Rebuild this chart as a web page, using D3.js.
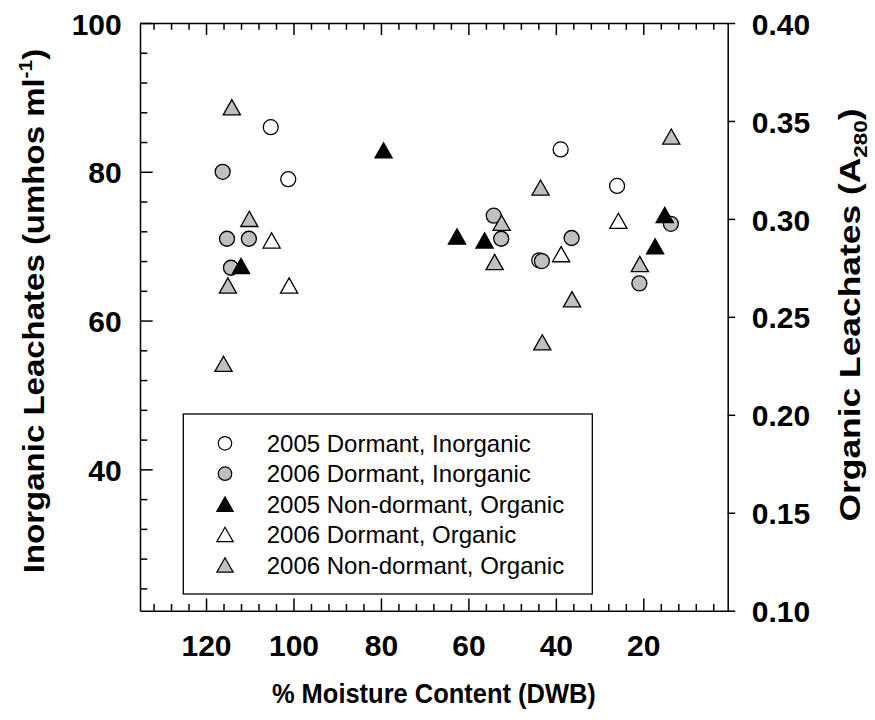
<!DOCTYPE html>
<html>
<head>
<meta charset="utf-8">
<script src="https://cdn.jsdelivr.net/npm/d3@7"></script>
<style>
  html, body { margin: 0; padding: 0; background: #ffffff; }
  svg { display: block; }
  text { font-family: "Liberation Sans", Arial, Helvetica, sans-serif; fill: #000; }
</style>
</head>
<body>
<svg id="chart" width="875" height="720"></svg>
<script>
// ---- Data: % moisture content (DWB) and leachate readings per sample ----
// Inorganic series read on the left axis (umhos/ml)
const dormant2005InorgMoisture = [105.2, 101.2, 38.9, 26.0, 43.8];
const dormant2005InorgValue    = [86.0, 79.0, 83.0, 78.1, 68.1];

const dormant2006InorgMoisture = [116.2, 115.2, 110.2, 114.3, 54.2, 52.5, 43.2, 36.4, 13.7, 20.9];
const dormant2006InorgValue    = [80.0, 71.0, 71.0, 67.1, 74.1, 71.0, 68.0, 71.1, 73.0, 65.0];

// Organic series read on the right axis (A280)
const nondormant2005OrgMoisture = [79.4, 112.0, 62.6, 56.3, 15.1, 17.3];
const nondormant2005OrgValue    = [0.335, 0.276, 0.291, 0.289, 0.302, 0.286];

const dormant2006OrgMoisture = [105.0, 101.0, 38.8, 25.7];
const dormant2006OrgValue    = [0.289, 0.266, 0.282, 0.299];

const nondormant2006OrgMoisture = [114.1, 110.1, 115.0, 116.0, 13.6, 43.5, 52.4, 54.0, 36.3, 43.1, 20.8];
const nondormant2006OrgValue    = [0.357, 0.300, 0.266, 0.226, 0.342, 0.316, 0.298, 0.278, 0.259, 0.237, 0.277];

const seriesNames = [
  "2005 Dormant, Inorganic",
  "2006 Dormant, Inorganic",
  "2005 Non-dormant, Organic",
  "2006 Dormant, Organic",
  "2006 Non-dormant, Organic"
];

// Tick values
const xMajorTicks = [120, 100, 80, 60, 40, 20];
const xMinorTicks = d3.range(132, 0, -4).filter(v => v % 20 !== 0);
const yLeftMajorTicks = [100, 80, 60, 40];
const yLeftMinorTicks = d3.range(24, 100, 4).filter(v => v % 20 !== 0);
const yRightTicks = [0.10, 0.15, 0.20, 0.25, 0.30, 0.35, 0.40];

// ---- Layout ----
const svg = d3.select("#chart");
const plot = { left: 140, right: 727.7, top: 23, bottom: 610.7 };

const x = d3.scaleLinear().domain([135.1, 0.7]).range([plot.left, plot.right]);
const yL = d3.scaleLinear().domain([21, 100]).range([plot.bottom, plot.top]);
const yR = d3.scaleLinear().domain([0.10, 0.40]).range([plot.bottom, plot.top]);

const GRAY = "#c0c0c0";
const series = [
  { name: seriesNames[0], xs: dormant2005InorgMoisture, ys: dormant2005InorgValue, y: yL, shape: "circle", fill: "#ffffff" },
  { name: seriesNames[1], xs: dormant2006InorgMoisture, ys: dormant2006InorgValue, y: yL, shape: "circle", fill: GRAY },
  { name: seriesNames[2], xs: nondormant2005OrgMoisture, ys: nondormant2005OrgValue, y: yR, shape: "triangle", fill: "#000000" },
  { name: seriesNames[3], xs: dormant2006OrgMoisture, ys: dormant2006OrgValue, y: yR, shape: "triangle", fill: "#ffffff" },
  { name: seriesNames[4], xs: nondormant2006OrgMoisture, ys: nondormant2006OrgValue, y: yR, shape: "triangle", fill: GRAY }
];

// Marker shapes centred on their bounding box
function markerPath(shape, s) {
  if (shape === "circle") {
    const p = d3.path();
    p.arc(0, 0, 7.5 * s, 0, 2 * Math.PI);
    return p.toString();
  }
  const hw = 8.6 * s, hh = 7.6 * s;
  return `M0,${-hh}L${hw},${hh}L${-hw},${hh}Z`;
}

const FONT_TICK = 30;

// ---- Axes ----
function styleAxis(g) {
  g.selectAll("path.domain").attr("stroke", "#000").attr("stroke-width", 1.5);
  g.selectAll(".tick line").attr("stroke", "#000").attr("stroke-width", 1.5);
  g.selectAll(".tick text")
    .attr("font-family", "'Liberation Sans', Arial, sans-serif")
    .attr("font-weight", "bold")
    .attr("font-size", FONT_TICK)
    .attr("fill", "#000");
}

// bottom axis (ticks point inward)
svg.append("g")
  .attr("transform", `translate(0,${plot.bottom})`)
  .call(d3.axisBottom(x).tickValues(xMinorTicks).tickSizeInner(-6.7).tickSizeOuter(0).tickFormat(""))
  .call(g => g.select(".domain").remove())
  .call(styleAxis);
svg.append("g")
  .attr("transform", `translate(0,${plot.bottom})`)
  .call(d3.axisBottom(x).tickValues(xMajorTicks).tickSizeInner(-12.3).tickSizeOuter(0).tickPadding(24.5).tickFormat(d3.format("d")))
  .call(styleAxis);

// top axis (no labels)
svg.append("g")
  .attr("transform", `translate(0,${plot.top})`)
  .call(d3.axisTop(x).tickValues(xMinorTicks).tickSizeInner(-6.7).tickSizeOuter(0).tickFormat(""))
  .call(g => g.select(".domain").remove())
  .call(styleAxis);
svg.append("g")
  .attr("transform", `translate(0,${plot.top})`)
  .call(d3.axisTop(x).tickValues(xMajorTicks).tickSizeInner(-12).tickSizeOuter(0).tickFormat(""))
  .call(styleAxis);

// left axis
svg.append("g")
  .attr("transform", `translate(${plot.left},0)`)
  .call(d3.axisLeft(yL).tickValues(yLeftMinorTicks).tickSizeInner(-7.3).tickSizeOuter(0).tickFormat(""))
  .call(g => g.select(".domain").remove())
  .call(styleAxis);
svg.append("g")
  .attr("transform", `translate(${plot.left},0)`)
  .call(d3.axisLeft(yL).tickValues(yLeftMajorTicks).tickSizeInner(-12.7).tickSizeOuter(0).tickPadding(18.3).tickFormat(d3.format("d")))
  .call(styleAxis)
  .call(g => g.selectAll(".tick text").attr("dy", "0.37em"));

// right axis (ticks point outward)
svg.append("g")
  .attr("transform", `translate(${plot.right},0)`)
  .call(d3.axisRight(yR).tickValues(yRightTicks).tickSizeInner(7.5).tickSizeOuter(0).tickPadding(16.5).tickFormat(d3.format(".2f")))
  .call(styleAxis)
  .call(g => g.selectAll(".tick text").attr("dy", "0.37em"));

// ---- Axis titles (vertical titles elongated, bottom title slightly narrowed) ----
const leftTitle = svg.append("text")
  .attr("transform", `translate(43.5,311) rotate(-90) scale(1.1,1)`)
  .attr("text-anchor", "middle")
  .attr("font-weight", "bold")
  .attr("font-size", 30);
leftTitle.append("tspan").text("Inorganic Leachates (umhos ml");
leftTitle.append("tspan").attr("font-size", 19).attr("dy", -12).text("-1");
leftTitle.append("tspan").attr("dy", 12).text(")");

const rightTitle = svg.append("text")
  .attr("transform", `translate(859.5,315) rotate(-90) scale(1.18,1)`)
  .attr("text-anchor", "middle")
  .attr("font-weight", "bold")
  .attr("font-size", 30);
rightTitle.append("tspan").text("Organic Leachates (A");
rightTitle.append("tspan").attr("font-size", 19).attr("dy", 7).text("280");
rightTitle.append("tspan").attr("dy", -7).text(")");

svg.append("text")
  .attr("transform", `translate(${(plot.left + plot.right) / 2},703) scale(0.91,1)`)
  .attr("text-anchor", "middle")
  .attr("font-weight", "bold")
  .attr("font-size", 28)
  .text("% Moisture Content (DWB)");

// ---- Legend ----
const legend = { x: 183.3, y: 414, w: 409, h: 180, symX: 225, textX: 266.7, row0: 443.3, rowStep: 30.4 };
svg.append("rect")
  .attr("x", legend.x).attr("y", legend.y)
  .attr("width", legend.w).attr("height", legend.h)
  .attr("fill", "#fff").attr("stroke", "#000").attr("stroke-width", 1.3);

const legRows = svg.append("g").selectAll("g")
  .data(series)
  .join("g")
  .attr("transform", (d, i) => `translate(0,${legend.row0 + i * legend.rowStep})`);
legRows.append("path")
  .attr("transform", `translate(${legend.symX},0)`)
  .attr("d", d => markerPath(d.shape, d.shape === "circle" ? 0.9 : 0.95))
  .attr("fill", d => d.fill)
  .attr("stroke", "#000").attr("stroke-width", 1.2);
legRows.append("text")
  .attr("x", legend.textX)
  .attr("dy", "0.36em")
  .attr("font-size", 24)
  .text(d => d.name);

// ---- Points ----
series.forEach(s => {
  const pts = s.xs.map((m, i) => ({ m, v: s.ys[i] }));
  svg.append("g").selectAll("path")
    .data(pts)
    .join("path")
    .attr("transform", d => `translate(${x(d.m)},${s.y(d.v)})`)
    .attr("d", markerPath(s.shape, 1))
    .attr("fill", s.fill)
    .attr("stroke", "#000")
    .attr("stroke-width", 1.3);
});
</script>
</body>
</html>
